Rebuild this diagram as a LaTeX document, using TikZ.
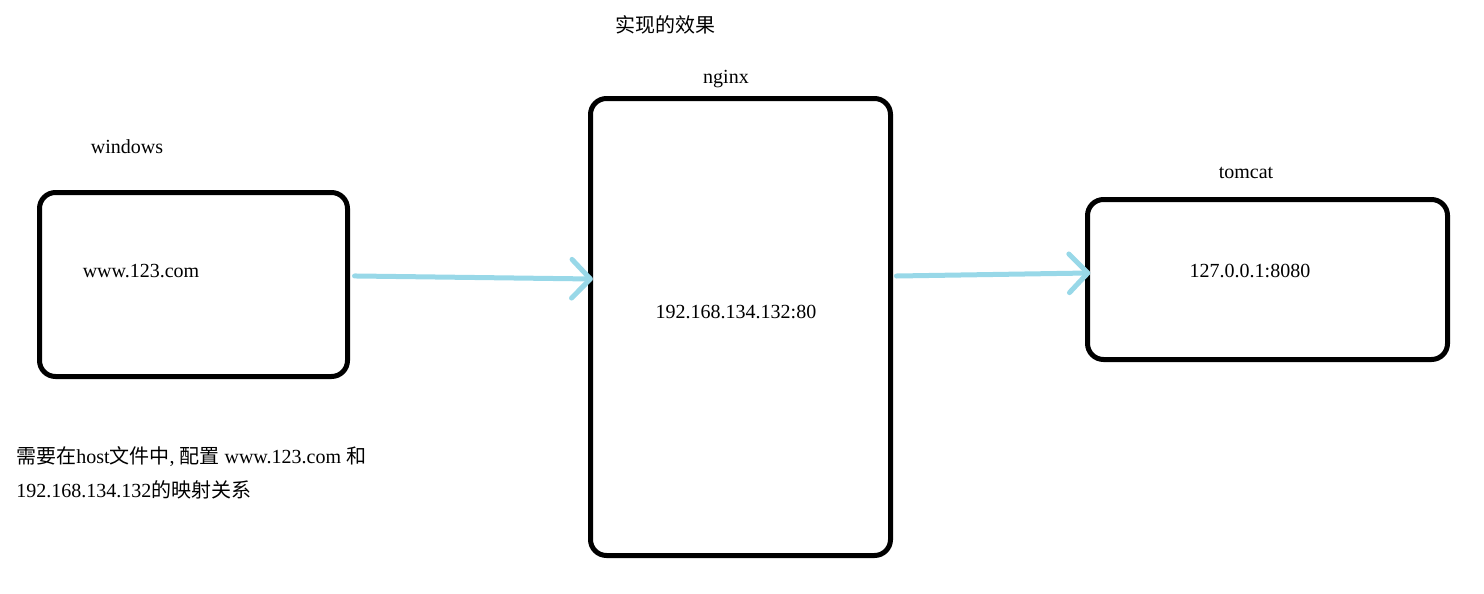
\documentclass[tikz,border=0pt]{standalone}
\usepackage{fontspec}
\setmainfont{Liberation Serif}
\newfontfamily\cjk{Noto Sans CJK SC}
\usetikzlibrary{arrows.meta}
\definecolor{skyblue}{RGB}{152,216,232}

\begin{document}
\begin{tikzpicture}[x=0.75pt,y=-0.75pt,
  every node/.style={font=\fontsize{15pt}{18pt}\selectfont},
  box/.style={draw,line width=3.75pt,rounded corners=12pt,inner sep=0pt},
  flow/.style={draw=skyblue,line width=3.75pt,line cap=round,
    -{Straight Barb[round,length=14pt,width=29pt]}}]
  \useasboundingbox (0,0) rectangle (1484,593);
  \node (title) at (665,25) {\cjk 实现的效果};
  % the three machines
  \node[box,minimum width=231pt,minimum height=138pt] (win) at (193.5,284.5) {};
  \node[box,minimum width=225pt,minimum height=342.75pt] (nginx) at (740.5,327) {};
  \node[box,minimum width=270pt,minimum height=120pt] (tomcat) at (1267.5,279.5) {};
  \node (winlabel) at (127,147) {windows};
  \node (nginxlabel) at (726,79) {nginx};
  \node (tomcatlabel) at (1246,173) {tomcat};
  \node (domain) at (141,271) {www.123.com};
  \node (nginxip) at (736,312) {192.168.134.132:80};
  \node (tomcatip) at (1250,271) {127.0.0.1:8080};
  \draw[flow] ([xshift=3.4pt,yshift=6.4pt]win.east) -- ([xshift=3.7pt,yshift=36pt]nginx.west);
  \draw[flow] ([xshift=2.6pt,yshift=38.25pt]nginx.east) -- ([xshift=4pt,yshift=4.9pt]tomcat.west);
  \node[anchor=base west,align=left,inner sep=0pt,font=\fontsize{15pt}{25.5pt}\selectfont] (note) at (16,497)
    {{\cjk 需要在}host{\cjk 文件中}, {\cjk 配置} www.123.com {\cjk 和}\\
     192.168.134.132{\cjk 的映射关系}};
\end{tikzpicture}
\end{document}
